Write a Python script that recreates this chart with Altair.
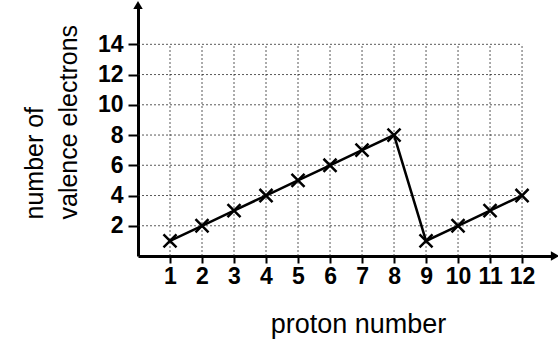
import altair as alt
import pandas as pd

# proton number vs number of valence electrons
protons = [1, 2, 3, 4, 5, 6, 7, 8, 9, 10, 11, 12]
valence = [1, 2, 3, 4, 5, 6, 7, 8, 1, 2, 3, 4]

x_ticks = list(range(1, 13))
y_ticks = [2, 4, 6, 8, 10, 12, 14]

X_MAX = 13.03
Y_MAX = 16.6
FONT = "Liberation Sans"

df = pd.DataFrame({"p": protons, "v": valence})
vgrid = pd.DataFrame({"x": x_ticks, "y0": 0, "y1": 14})
hgrid = pd.DataFrame({"y": y_ticks, "x0": 0, "x1": 12})
arrows = pd.DataFrame({"x": [0, X_MAX], "y": [Y_MAX, 0], "s": ["triangle-up", "triangle-right"]})

xscale = alt.Scale(domain=[0, X_MAX], nice=False, zero=False)
yscale = alt.Scale(domain=[0, Y_MAX], nice=False, zero=False)

xaxis = alt.Axis(
    values=x_ticks, grid=False, domainColor="black", domainWidth=3,
    tickColor="black", tickWidth=2, tickSize=7,
    labelFont=FONT, labelFontSize=23, labelFontWeight="bold", labelColor="black",
    labelPadding=2, labelFlush=False, labelOverlap=False,
    title="proton number", titleFont=FONT, titleFontSize=27, titleFontWeight="normal",
    titleColor="black", titleX=220, titleY=76, titleAlign="center",
    titleBaseline="alphabetic", titleAnchor="start",
)
yaxis = alt.Axis(
    values=y_ticks, grid=False, domainColor="black", domainWidth=3,
    tickColor="black", tickWidth=2, tickSize=10,
    labelFont=FONT, labelFontSize=23, labelFontWeight="bold", labelColor="black",
    labelPadding=5, labelFlush=False, labelOverlap=False,
    title=["number of", "valence electrons"], titleFont=FONT, titleFontSize=25,
    titleFontWeight="normal", titleColor="black", titleAngle=270,
    titleAlign="left", titleBaseline="alphabetic", titleLineHeight=34,
    titleX=-96, titleY=214, titleAnchor="start",
)


def xq(field):
    return alt.X(field, type="quantitative", scale=xscale, axis=xaxis)


def yq(field):
    return alt.Y(field, type="quantitative", scale=yscale, axis=yaxis)


grid_style = dict(color="#222222", strokeWidth=1, strokeDash=[2, 2], opacity=0.75)

v_lines = alt.Chart(vgrid).mark_rule(**grid_style).encode(
    x=xq("x"), y=yq("y0"), y2="y1:Q",
)
h_lines = alt.Chart(hgrid).mark_rule(**grid_style).encode(
    y=yq("y"), x=xq("x0"), x2="x1:Q",
)

line = alt.Chart(df).mark_line(color="black", strokeWidth=2.5).encode(
    x=xq("p"), y=yq("v"),
)
crosses = alt.Chart(df).mark_point(
    shape="M-1,-1L1,1M1,-1L-1,1", filled=False, color="black",
    strokeWidth=2.5, size=170, opacity=1,
).encode(
    x=xq("p"), y=yq("v"),
)

heads = alt.Chart(arrows).mark_point(filled=True, color="black", size=90, opacity=1).encode(
    x=xq("x"), y=yq("y"),
    shape=alt.Shape("s:N", scale=None, legend=None),
)

chart = (
    alt.layer(v_lines, h_lines, line, crosses, heads)
    .properties(
        width=417, height=251,
        autosize=alt.AutoSizeParams(type="none"),
        padding={"left": 138, "top": 5, "right": 3, "bottom": 85},
        background="white",
    )
    .configure_view(stroke=None)
)

chart.save("out.html", embed_options={"renderer": "svg", "actions": False})
